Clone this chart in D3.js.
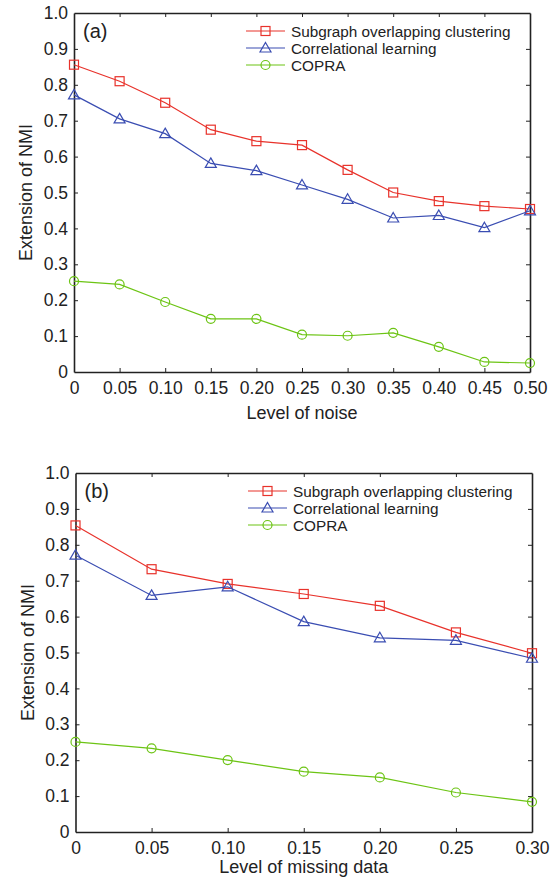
<!DOCTYPE html>
<html>
<head>
<meta charset="utf-8">
<script src="https://cdn.jsdelivr.net/npm/d3@7"></script>
<style>
  body { margin: 0; background: #fff; }
  svg text { font-family: "Liberation Sans", Arial, sans-serif; fill: #222; }
</style>
</head>
<body>
<div class="canvas"></div>
<script>
// data
const seriesNames = ['Subgraph overlapping clustering', 'Correlational learning', 'COPRA'];
const colors = ['#e8322b', '#3a4db2', '#6cc414'];
const shapes = ['square', 'triangle', 'circle'];

const noiseLevels = [0, 0.05, 0.10, 0.15, 0.20, 0.25, 0.30, 0.35, 0.40, 0.45, 0.50];
const noiseLabels = ['0', '0.05', '0.10', '0.15', '0.20', '0.25', '0.30', '0.35', '0.40', '0.45', '0.50'];
const noiseSubgraph = [0.856, 0.810, 0.750, 0.675, 0.643, 0.632, 0.563, 0.500, 0.476, 0.462, 0.454];
const noiseCorrelational = [0.772, 0.705, 0.664, 0.581, 0.561, 0.521, 0.481, 0.429, 0.436, 0.402, 0.449];
const noiseCopra = [0.253, 0.244, 0.195, 0.148, 0.148, 0.104, 0.101, 0.109, 0.070, 0.028, 0.025];

const missingLevels = [0, 0.05, 0.10, 0.15, 0.20, 0.25, 0.30];
const missingLabels = ['0', '0.05', '0.10', '0.15', '0.20', '0.25', '0.30'];
const missingSubgraph = [0.854, 0.732, 0.691, 0.663, 0.630, 0.556, 0.498];
const missingCorrelational = [0.771, 0.659, 0.683, 0.586, 0.541, 0.534, 0.484];
const missingCopra = [0.251, 0.233, 0.200, 0.168, 0.152, 0.110, 0.084];

const yTicks = [0, 0.1, 0.2, 0.3, 0.4, 0.5, 0.6, 0.7, 0.8, 0.9, 1.0];
const yTickLabels = ['0', '0.1', '0.2', '0.3', '0.4', '0.5', '0.6', '0.7', '0.8', '0.9', '1.0'];

const svg = d3.select('.canvas')
    .append('svg')
    .attr('width', 556)
    .attr('height', 878);

const drawPanel = (opts) => {
    const { left, top, width, height, xs, xLabels, series, tag, xTitle, titleY } = opts;

    const graph = svg.append('g')
        .attr('transform', `translate(${left}, ${top})`);

    const x = d3.scaleLinear().domain([xs[0], xs[xs.length - 1]]).range([0, width]);
    const y = d3.scaleLinear().domain([0, 1]).range([height, 0]);

    // axes (ticks pointing inward, mirrored box)
    const fmtX = (d, i) => xLabels[i];
    const fmtY = (d, i) => yTickLabels[i];

    const xAxis = graph.append('g')
        .attr('transform', `translate(0, ${height})`)
        .call(d3.axisBottom(x).tickValues(xs).tickFormat(fmtX).tickSizeInner(-4).tickSizeOuter(0).tickPadding(10));
    const xTop = graph.append('g')
        .call(d3.axisTop(x).tickValues(xs).tickFormat('').tickSizeInner(-4).tickSizeOuter(0));
    const yAxis = graph.append('g')
        .call(d3.axisLeft(y).tickValues(yTicks).tickFormat(fmtY).tickSizeInner(-4).tickSizeOuter(0).tickPadding(6));
    const yRight = graph.append('g')
        .attr('transform', `translate(${width}, 0)`)
        .call(d3.axisRight(y).tickValues(yTicks).tickFormat('').tickSizeInner(-4).tickSizeOuter(0));

    [xAxis, xTop, yAxis, yRight].forEach(a => {
        a.select('.domain').attr('stroke', '#222').attr('stroke-width', 1.6);
        a.selectAll('.tick line').attr('stroke', '#222').attr('stroke-width', 1);
        a.selectAll('text').style('font-size', '17.5px').attr('fill', '#222');
    });
    // hide tick marks at the box corners
    xAxis.selectAll('.tick line').filter((d, i) => i === 0 || i === xs.length - 1).remove();
    xTop.selectAll('.tick line').filter((d, i) => i === 0 || i === xs.length - 1).remove();
    yAxis.selectAll('.tick line').filter((d, i) => i === 0 || i === yTicks.length - 1).remove();
    yRight.selectAll('.tick line').filter((d, i) => i === 0 || i === yTicks.length - 1).remove();

    // axis titles
    graph.append('text')
        .attr('x', width / 2)
        .attr('y', titleY)
        .attr('text-anchor', 'middle')
        .style('font-size', '18px')
        .text(xTitle);
    graph.append('text')
        .attr('transform', `translate(-42, ${height / 2}) rotate(-90)`)
        .attr('text-anchor', 'middle')
        .style('font-size', '18px')
        .text('Extension of NMI');

    graph.append('text')
        .attr('x', 9)
        .attr('y', 25)
        .style('font-size', '20px')
        .text(tag);

    const line = d3.line()
        .x((d, i) => x(xs[i]))
        .y(d => y(d));

    const drawMarker = (g, shape, color, cx, cy) => {
        if (shape === 'square') {
            g.append('rect').attr('x', cx - 4.5).attr('y', cy - 4.5)
                .attr('width', 9).attr('height', 9);
        } else if (shape === 'triangle') {
            g.append('path').attr('d', `M${cx},${cy - 5.5}L${cx + 5.5},${cy + 4}L${cx - 5.5},${cy + 4}Z`);
        } else {
            g.append('circle').attr('cx', cx).attr('cy', cy).attr('r', 4.5);
        }
        g.selectAll('*').attr('fill', 'none').attr('stroke', color).attr('stroke-width', 1.2);
    };

    series.forEach((vals, s) => {
        graph.append('path')
            .datum(vals)
            .attr('fill', 'none')
            .attr('stroke', colors[s])
            .attr('stroke-width', 1.2)
            .attr('d', line);
        vals.forEach((v, i) => {
            drawMarker(graph.append('g'), shapes[s], colors[s], x(xs[i]), y(v));
        });
    });

    // legend
    const legend = graph.append('g').attr('transform', `translate(${width - 284}, 18)`);
    seriesNames.forEach((name, s) => {
        const row = legend.append('g').attr('transform', `translate(0, ${s * 17})`);
        row.append('line').attr('x1', 0).attr('x2', 39).attr('y1', 0).attr('y2', 0)
            .attr('stroke', colors[s]).attr('stroke-width', 1.2);
        drawMarker(row.append('g'), shapes[s], colors[s], 19.5, 0);
        row.append('text')
            .attr('x', 45)
            .attr('y', 5.5)
            .style('font-size', '15.3px')
            .text(name);
    });
};

drawPanel({
    left: 74, top: 13, width: 456, height: 359,
    xs: noiseLevels, xLabels: noiseLabels,
    series: [noiseSubgraph, noiseCorrelational, noiseCopra],
    tag: '(a)', xTitle: 'Level of noise', titleY: 406
});

drawPanel({
    left: 75.5, top: 473, width: 456.5, height: 359,
    xs: missingLevels, xLabels: missingLabels,
    series: [missingSubgraph, missingCorrelational, missingCopra],
    tag: '(b)', xTitle: 'Level of missing data', titleY: 400
});
</script>
</body>
</html>
